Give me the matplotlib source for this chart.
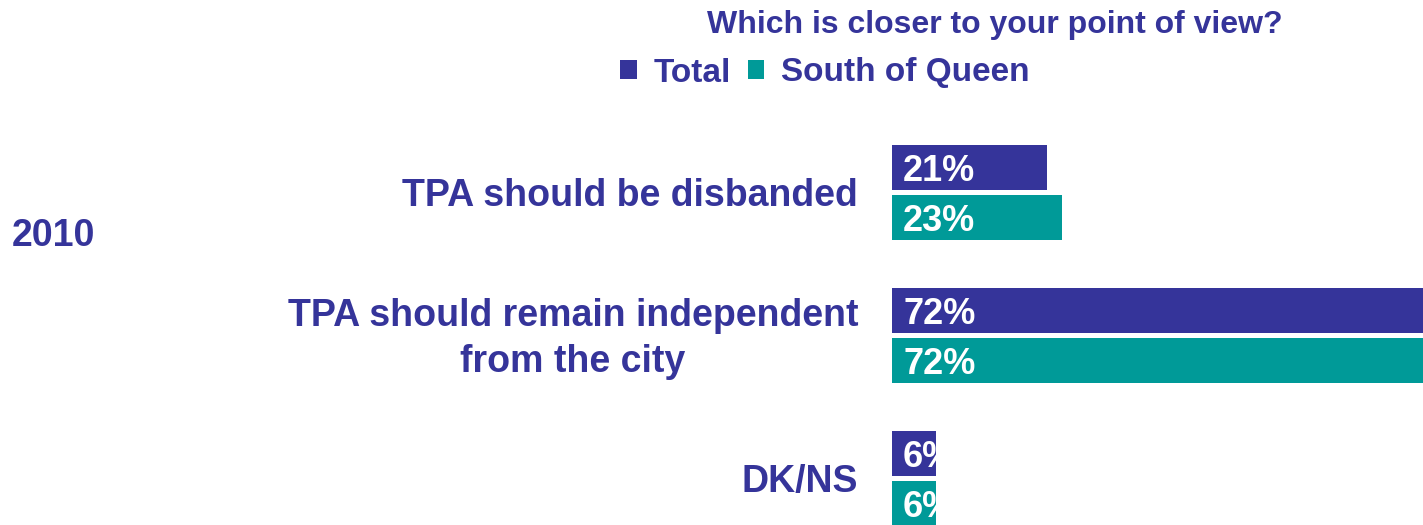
import matplotlib.pyplot as plt
import numpy as np

categories = ['TPA should be disbanded', 'TPA should remain independent\nfrom the city', 'DK/NS']
total = [21, 72, 6]
south_of_queen = [23, 72, 6]
series_names = ['Total', 'South of Queen']
year_label = '2010'
title = 'Which is closer to your point of view?'

NAVY = '#35349A'
TEAL = '#009A98'
W, H = 1423, 525

plt.rcParams['font.family'] = ['Liberation Sans', 'DejaVu Sans']
plt.rcParams['font.weight'] = 'bold'

fig = plt.figure(figsize=(W / 100, H / 100), dpi=100)
ax = fig.add_axes([892 / W, 0, 1 - 892 / W, 1])

y = np.arange(len(categories))
bh = 0.318
off = 0.173
b1 = ax.barh(y - off, total, height=bh, color=NAVY, label=series_names[0])
b2 = ax.barh(y + off, south_of_queen, height=bh, color=TEAL, label=series_names[1])

ax.set_xlim(0, 72)
ax.set_ylim((H - 192.5) / 143, -192.5 / 143)
ax.axis('off')

# value labels, clipped to their bar like in the original
for bars, vals in [(b1, total), (b2, south_of_queen)]:
    for rect, v in zip(bars, vals):
        t = ax.text(1.5, rect.get_y() + rect.get_height() / 2 + 0.028, f'{v}%',
                    color='white', fontsize=26, fontweight='bold',
                    va='center', ha='left')
        t.set_clip_path(rect)

# category labels
for yi, cat in zip(y, categories):
    fig.text(858 / W, 1 - (196 + yi * 143) / H, cat, color=NAVY,
             fontsize=27, fontweight='bold', ha='right', va='center',
             multialignment='center', linespacing=1.35)

fig.text(12 / W, 1 - 236 / H, year_label, color=NAVY, fontsize=27,
         fontweight='bold', ha='left', va='center')
fig.text(1283 / W, 1 - 25 / H, title, color=NAVY, fontsize=23,
         fontweight='bold', ha='right', va='center')

fig.legend(handles=[b1, b2], labels=series_names, loc='center',
           bbox_to_anchor=(825 / W, 1 - 73 / H), ncol=2, frameon=False,
           labelcolor=NAVY, handlelength=0.5, handleheight=0.5,
           handletextpad=0.5, columnspacing=0.5,
           prop={'weight': 'bold', 'size': 24})

fig.savefig('out.png', dpi=100)
